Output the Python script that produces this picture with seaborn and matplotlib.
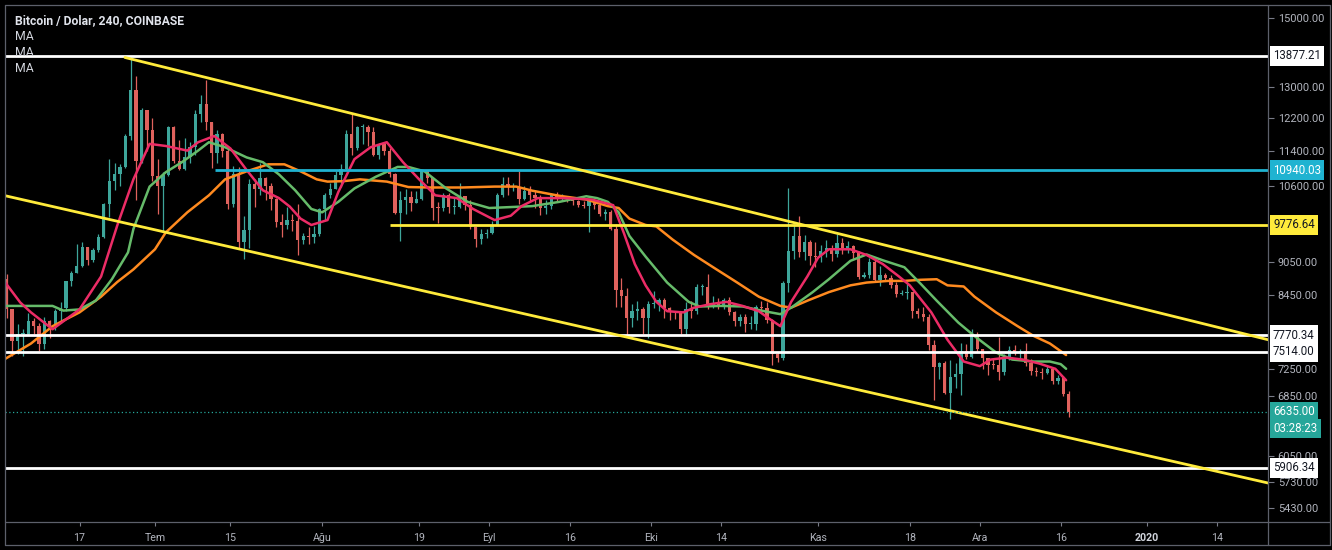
import matplotlib
matplotlib.use("Agg")
import matplotlib.pyplot as plt
import matplotlib.dates as mdates
from matplotlib.transforms import blended_transform_factory
from matplotlib.lines import Line2D
from matplotlib.ticker import NullLocator, FixedLocator, FixedFormatter
import seaborn as sns
import pandas as pd
import numpy as np

# ---------------- data (daily candles) ----------------
start_date = "2019-06-03"
first_open = 8740
closes = [
    # June 3-30
    8200, 7680, 7790, 7800, 8000, 7930, 7630, 8010, 7915, 8180, 8230, 8690, 8850, 8970,
    9330, 9080, 9280, 9530, 10200, 10700, 10850, 11020, 11750, 12930, 11160, 12390, 11890, 10820,
    # July
    10590, 10840, 11980, 11150, 10980, 11250, 11480, 12290, 12570, 12100, 11350, 11800, 11380, 10200,
    10850, 9430, 9670, 10640, 10530, 10760, 10590, 10320, 9840, 9770, 9880, 9850, 9480, 9540, 9520, 9590, 10090,
    # August
    10400, 10530, 10830, 10980, 11800, 11460, 11970, 11980, 11860, 11290, 11550, 11400, 10860, 10020,
    10300, 10360, 10220, 10320, 10920, 10770, 10130, 10120, 10400, 10140, 10140, 10370, 10190, 9720, 9490, 9590, 9600,
    # September
    9770, 10390, 10630, 10570, 10580, 10320, 10490, 10400, 10330, 10120, 10170, 10420, 10360, 10370,
    10310, 10260, 10190, 10160, 10270, 10180, 9990, 10030, 9690, 8530, 8430, 8060, 8180, 8200, 8050, 8300,
    # October
    8300, 8370, 8230, 8150, 8140, 7870, 8210, 8180, 8590, 8590, 8260, 8300, 8280, 8360,
    8160, 8000, 8070, 7960, 7960, 8240, 8220, 8020, 7470, 7420, 8660, 9250, 9550, 9230, 9430, 9170, 9150,
    # November
    9250, 9310, 9200, 9410, 9310, 9350, 9210, 8770, 8810, 9040, 8720, 8800, 8760, 8630,
    8460, 8490, 8500, 8170, 8120, 8080, 7620, 7280, 7330, 6900, 7130, 7170, 7520, 7430, 7760, 7560,
    # December 1-17
    7410, 7310, 7300, 7200, 7400, 7540, 7510, 7520, 7340, 7220, 7200, 7190, 7250, 7070, 7110, 6880, 6635,
]
highs = [
    8830, 8200, 7960, 7880, 8140, 8060, 7980, 8080, 8030, 8200, 8320, 8700, 8880, 9390,
    9430, 9340, 9320, 9580, 10230, 11200, 11100, 11090, 11800, 13880, 13300, 12450, 12400, 12200,
    11200, 10900, 11990, 12000, 11650, 11700, 11600, 12390, 12800, 13200, 12100, 11900, 11820, 11450,
    11050, 11020, 9950, 10750, 10750, 11100, 10800, 10650, 10330, 10000, 10150, 10000, 10200, 9600, 9720, 9750, 10120,
    10450, 10650, 10920, 11080, 11900, 12320, 12000, 12050, 12030, 11960, 11570, 11600, 11450, 10880,
    10480, 10530, 10480, 10480, 10950, 10950, 10770, 10240, 10440, 10430, 10350, 10650, 10370, 10290, 9730, 9680, 9690,
    9850, 10450, 10790, 10790, 10650, 10920, 10590, 10600, 10500, 10400, 10300, 10450, 10460, 10420,
    10380, 10360, 10280, 10260, 10320, 10280, 10200, 10100, 10070, 9800, 8750, 8580, 8300, 8340, 8250, 8350,
    8520, 8400, 8400, 8240, 8180, 8180, 8330, 8350, 8650, 8650, 8830, 8430, 8400, 8400,
    8420, 8180, 8120, 8120, 8090, 8280, 8340, 8320, 8040, 7500, 8700, 10540, 9800, 9950, 9560, 9480, 9430,
    9380, 9470, 9380, 9580, 9500, 9450, 9380, 9250, 8860, 9120, 9080, 8970, 8840, 8810,
    8680, 8540, 8640, 8500, 8220, 8250, 8120, 7700, 7350, 7370, 7390, 7340, 7650, 7640, 7870, 7830,
    7560, 7420, 7400, 7750, 7480, 7600, 7620, 7550, 7650, 7400, 7270, 7260, 7310, 7260, 7160, 7140, 6920,
]
lows = [
    8060, 7450, 7480, 7440, 7790, 7800, 7520, 7550, 7730, 7850, 7980, 8170, 8600, 8850,
    8950, 9000, 9040, 9230, 9500, 9940, 10500, 10600, 11000, 11650, 10300, 11100, 11380, 10700,
    10000, 9650, 10820, 11100, 10950, 10950, 11120, 11300, 12100, 11900, 11000, 11100, 11250, 10100,
    10150, 9300, 9100, 9310, 10150, 10400, 10300, 10070, 9730, 9530, 9680, 9640, 9180, 9400, 9400, 9420, 9550,
    9880, 10340, 10520, 10570, 10960, 11300, 11420, 11550, 11500, 11270, 11200, 11300, 10800, 10000,
    9450, 10000, 10050, 10220, 10300, 10650, 9870, 9810, 10050, 10010, 10000, 10120, 10070, 9680, 9340, 9390, 9500,
    9580, 9760, 10350, 10400, 10480, 10200, 10300, 10270, 10120, 9980, 10000, 10100, 10260, 10300,
    10250, 10180, 10150, 10110, 9630, 10100, 9950, 9880, 9660, 8250, 8250, 7760, 7900, 8030, 7800, 7730,
    8220, 8170, 8060, 8020, 8040, 7800, 7760, 8050, 8120, 8450, 8200, 8220, 8200, 8210,
    8100, 7930, 7920, 7820, 7880, 7860, 8160, 7980, 7300, 7350, 7390, 8500, 9100, 9150, 9080, 8990, 8950,
    9050, 9150, 9070, 9150, 9200, 9220, 9100, 8740, 8750, 8750, 8690, 8600, 8700, 8570,
    8420, 8450, 8380, 8050, 8050, 8000, 7540, 6800, 7100, 6880, 6530, 6970, 6860, 7400, 7410, 7500,
    7250, 7150, 7250, 7090, 7150, 7380, 7460, 7380, 7290, 7150, 7140, 7100, 7170, 7030, 7020, 6850, 6560,
]

# moving averages, sampled from the chart
ma_fast_dates = ["2019-06-03", "2019-06-06", "2019-06-08", "2019-06-12", "2019-06-17", "2019-06-21",
                 "2019-06-24", "2019-06-27", "2019-06-30", "2019-07-03", "2019-07-07", "2019-07-09",
                 "2019-07-12", "2019-07-15", "2019-07-18", "2019-07-21", "2019-07-24", "2019-07-26",
                 "2019-07-28", "2019-07-30", "2019-08-02", "2019-08-04", "2019-08-07", "2019-08-10",
                 "2019-08-13", "2019-08-16", "2019-08-19", "2019-08-22", "2019-08-26", "2019-08-29",
                 "2019-09-02", "2019-09-05", "2019-09-07", "2019-09-10", "2019-09-15", "2019-09-20",
                 "2019-09-24", "2019-09-26", "2019-09-28", "2019-09-30", "2019-10-02", "2019-10-04",
                 "2019-10-07", "2019-10-09", "2019-10-12", "2019-10-15", "2019-10-18", "2019-10-21",
                 "2019-10-23", "2019-10-25", "2019-10-27", "2019-10-30", "2019-11-01", "2019-11-03",
                 "2019-11-07", "2019-11-10", "2019-11-13", "2019-11-16", "2019-11-18", "2019-11-22",
                 "2019-11-25", "2019-11-28", "2019-12-01", "2019-12-03", "2019-12-06", "2019-12-09",
                 "2019-12-12", "2019-12-15", "2019-12-17"]
ma_fast_vals = [8700, 8320, 8150, 7870, 8200, 8780,
                9760, 10740, 11560, 11510, 11400, 11600,
                11750, 11450, 10950, 10500, 10330, 10150,
                9900, 9770, 9870, 10460, 11200, 11480,
                11600, 11130, 10740, 10390, 10330, 10100,
                9870, 9960, 10160, 10330, 10330, 10300,
                10180, 9600, 9010, 8620, 8330, 8170,
                8150, 8230, 8290, 8330, 8260, 8170,
                8040, 7920, 8330, 8780, 9130, 9290,
                9290, 9180, 9010, 8780, 8620, 8150,
                7700, 7360, 7290, 7390, 7420, 7390,
                7330, 7250, 7080]

ma_mid_dates = ["2019-06-03", "2019-06-12", "2019-06-14", "2019-06-17", "2019-06-20", "2019-06-23",
                "2019-06-26", "2019-06-27", "2019-06-30", "2019-07-03", "2019-07-06", "2019-07-09",
                "2019-07-11", "2019-07-14", "2019-07-18", "2019-07-21", "2019-07-24", "2019-07-27",
                "2019-07-30", "2019-08-01", "2019-08-04", "2019-08-07", "2019-08-11", "2019-08-15",
                "2019-08-17", "2019-08-20", "2019-08-24", "2019-08-28", "2019-09-01", "2019-09-05",
                "2019-09-09", "2019-09-14", "2019-09-19", "2019-09-21", "2019-09-23", "2019-09-25",
                "2019-09-27", "2019-09-30", "2019-10-04", "2019-10-08", "2019-10-10", "2019-10-14",
                "2019-10-18", "2019-10-22", "2019-10-25", "2019-10-27", "2019-10-31", "2019-11-03",
                "2019-11-07", "2019-11-10", "2019-11-13", "2019-11-17", "2019-11-20", "2019-11-23",
                "2019-11-27", "2019-11-30", "2019-12-04", "2019-12-07", "2019-12-11", "2019-12-14",
                "2019-12-16", "2019-12-17"]
ma_mid_vals = [8260, 8260, 8180, 8200, 8350, 8730,
               9230, 9690, 10580, 10900, 11130, 11400,
               11600, 11480, 11240, 11130, 10850, 10500,
               10100, 10030, 10250, 10540, 10800, 11020,
               11020, 10920, 10540, 10250, 10120, 10140,
               10160, 10250, 10370, 10330, 10250, 10030,
               9550, 9150, 8670, 8330, 8250, 8260,
               8250, 8170, 8120, 8230, 8500, 8730,
               9070, 9190, 9080, 8950, 8650, 8350,
               7980, 7760, 7500, 7390, 7360, 7360,
               7320, 7250]

ma_slow_dates = ["2019-06-03", "2019-06-08", "2019-06-12", "2019-06-17", "2019-06-21", "2019-06-24",
                 "2019-06-27", "2019-07-01", "2019-07-03", "2019-07-07", "2019-07-11", "2019-07-14",
                 "2019-07-18", "2019-07-22", "2019-07-25", "2019-07-28", "2019-07-31", "2019-08-02",
                 "2019-08-05", "2019-08-08", "2019-08-13", "2019-08-17", "2019-08-21", "2019-08-27",
                 "2019-09-02", "2019-09-06", "2019-09-09", "2019-09-14", "2019-09-19", "2019-09-23",
                 "2019-09-25", "2019-09-27", "2019-09-30", "2019-10-02", "2019-10-05", "2019-10-09",
                 "2019-10-13", "2019-10-17", "2019-10-21", "2019-10-25", "2019-10-27", "2019-10-30",
                 "2019-11-03", "2019-11-07", "2019-11-10", "2019-11-14", "2019-11-17", "2019-11-20",
                 "2019-11-23", "2019-11-25", "2019-11-28", "2019-11-30", "2019-12-04", "2019-12-08",
                 "2019-12-11", "2019-12-14", "2019-12-17"]
ma_slow_vals = [7390, 7640, 7920, 8150, 8420, 8680,
                8910, 9290, 9620, 10030, 10390, 10740,
                10920, 11080, 11080, 10920, 10740, 10690,
                10700, 10740, 10690, 10570, 10560, 10560,
                10580, 10580, 10490, 10380, 10300, 10160,
                10120, 9900, 9770, 9740, 9480, 9180,
                8920, 8670, 8420, 8260, 8230, 8350,
                8500, 8620, 8670, 8700, 8700, 8720,
                8730, 8620, 8600, 8420, 8150, 7920,
                7760, 7640, 7460]

# horizontal levels: (price, start date or None for full width, kind)
level_prices = [13877.21, 10940.03, 9776.64, 7770.34, 7514.00, 5906.34]
level_starts = [None, "2019-07-12 03:00", "2019-08-13 14:00", None, None, None]
level_kinds = ["white", "cyan", "yellow", "white", "white", "white"]
last_price = 6635.00
countdown = "03:28:23"

# channel trend lines (date, price) anchors
upper_channel_dates = ["2019-06-25 10:00", "2020-01-23 12:00"]
upper_channel_prices = [13830, 7700]
lower_channel_dates = ["2019-06-02 12:00", "2020-01-23 12:00"]
lower_channel_prices = [10400, 5720]

price_ticks = [15000, 13000, 12200, 11400, 10600, 9050, 8450, 7250, 6850, 6050, 5730, 5430]
date_ticks = ["2019-06-17", "2019-07-01", "2019-07-15", "2019-08-01", "2019-08-19", "2019-09-01",
              "2019-09-16", "2019-10-01", "2019-10-14", "2019-11-01", "2019-11-18", "2019-12-01",
              "2019-12-16", "2020-01-01", "2020-01-14"]
date_tick_labels = ["17", "Tem", "15", "Ağu", "19", "Eyl", "16", "Eki", "14", "Kas", "18", "Ara",
                    "16", "2020", "14"]

title_text = "Bitcoin / Dolar, 240, COINBASE"
ma_labels = ["MA", "MA", "MA"]

# ---------------- style ----------------
sns.set_theme(style="dark")
plt.rcParams['font.family'] = ['Roboto', 'DejaVu Sans']

UP = "#3ea69b"
DOWN = "#e0625d"
AXIS_TXT = "#b2b5be"
FRAME = "#5d606b"
level_colors = {"white": "#ffffff", "cyan": "#1fb3d1", "yellow": "#ffeb3b"}
label_text_colors = {"white": "#131722", "cyan": "#ffffff", "yellow": "#131722"}

W, H = 1332, 550
fig = plt.figure(figsize=(W / 100, H / 100), dpi=100, facecolor="black")
ax = fig.add_axes([5 / W, (H - 522) / H, (1268 - 5) / W, (522 - 5) / H])
ax.set_facecolor("black")
for s in ax.spines.values():
    s.set_visible(False)
ax.grid(False)

# ---------------- candles ----------------
days = pd.date_range(start_date, periods=len(closes), freq="D")
xc = mdates.date2num(days + pd.Timedelta(hours=12))
c = np.array(closes, float)
o = np.concatenate([[first_open], c[:-1]])
hi = np.maximum.reduce([np.array(highs, float), o, c])
lo = np.minimum.reduce([np.array(lows, float), o, c])
cols = np.where(c >= o, UP, DOWN)
ax.vlines(xc, lo, hi, colors=cols, lw=0.9, zorder=2)
body_lo = np.minimum(o, c)
body_h = np.maximum(np.abs(c - o), 15)
ax.bar(xc, body_h, bottom=body_lo, width=0.6, color=cols, linewidth=0, zorder=2)

# ---------------- moving averages ----------------
for dts, vals, col in [(ma_slow_dates, ma_slow_vals, "#ff8a1f"),
                       (ma_mid_dates, ma_mid_vals, "#66bb6a"),
                       (ma_fast_dates, ma_fast_vals, "#ec2c66")]:
    xs = mdates.date2num(pd.to_datetime(dts))
    sns.lineplot(x=xs, y=vals, ax=ax, color=col, lw=1.8, zorder=3, sort=True)

# ---------------- axes limits ----------------
x_left = mdates.date2num(pd.Timestamp("2019-07-01") - pd.Timedelta(days=27.82))
x_right = mdates.date2num(pd.Timestamp("2019-07-01") + pd.Timedelta(days=206.45))
ax.set_xlim(x_left, x_right)
ax.set_yscale("log")
ax.set_ylim(5276, 15420)

# ---------------- levels / drawings ----------------
for p, st, k in zip(level_prices, level_starts, level_kinds):
    xs0 = x_left if st is None else mdates.date2num(pd.Timestamp(st))
    ax.plot([xs0, x_right], [p, p], color=level_colors[k], lw=2.0, zorder=4, solid_capstyle="butt")

ax.plot(mdates.date2num(pd.to_datetime(upper_channel_dates)), upper_channel_prices,
        color="#ffeb3b", lw=2.0, zorder=4)
ax.plot(mdates.date2num(pd.to_datetime(lower_channel_dates)), lower_channel_prices,
        color="#ffeb3b", lw=2.0, zorder=4)
ax.plot([x_left, x_right], [last_price, last_price], color="#26a69a", lw=0.9,
        linestyle=(0, (1, 2)), zorder=4)

# ---------------- price axis ----------------
ax.yaxis.tick_right()
ax.yaxis.set_major_locator(FixedLocator(price_ticks))
ax.yaxis.set_major_formatter(FixedFormatter([f"{v:.2f}" for v in price_ticks]))
ax.yaxis.set_minor_locator(NullLocator())
ax.tick_params(axis="y", which="major", right=True, left=False, length=4, width=0.8,
               color="#787b86", labelcolor=AXIS_TXT, labelsize=7.9, pad=3)

ax.xaxis.set_major_locator(FixedLocator(mdates.date2num(pd.to_datetime(date_ticks))))
ax.xaxis.set_major_formatter(FixedFormatter(date_tick_labels))
ax.xaxis.set_minor_locator(NullLocator())
ax.tick_params(axis="x", which="major", bottom=True, length=3, width=0.8, color="#787b86",
               labelcolor=AXIS_TXT, labelsize=7.7, pad=5)
for lab in ax.get_xticklabels():
    if lab.get_text() == "2020":
        lab.set_fontweight("bold")
        lab.set_color("#d1d4dc")

# price labels on axis
tr = blended_transform_factory(ax.transAxes, ax.transData)
box_x = 1 + 5 / (1268 - 5)
for p, k in zip(level_prices, level_kinds):
    ax.text(box_x, p, f"{p:.2f}", transform=tr, ha="left", va="center", fontsize=8.3,
            color=label_text_colors[k], clip_on=False, zorder=6,
            bbox=dict(boxstyle="square,pad=0.3", fc=level_colors[k], ec="none"))
ax.text(box_x, last_price, f"{last_price:.2f}", transform=tr, ha="left", va="center", fontsize=8.3,
        color="white", clip_on=False, zorder=6,
        bbox=dict(boxstyle="square,pad=0.3", fc="#26a69a", ec="none"))
ax.annotate(countdown, xy=(box_x, last_price), xycoords=tr, xytext=(0, -17),
            textcoords="offset pixels", ha="left", va="center", fontsize=8.3, color="white",
            annotation_clip=False, zorder=6,
            bbox=dict(boxstyle="square,pad=0.3", fc="#26a69a", ec="none"))

# ---------------- frame lines ----------------
def px(x, y):
    return x / W, 1 - y / H

for (x0, y0, x1, y1) in [(5, 5, 1330, 5), (5, 545, 1330, 545), (5, 5, 5, 545), (1330, 5, 1330, 545),
                         (1268, 5, 1268, 545), (5, 522, 1330, 522)]:
    a, b = px(x0, y0)
    cc, d = px(x1, y1)
    fig.add_artist(Line2D([a, cc], [b, d], color=FRAME, lw=0.9, transform=fig.transFigure, zorder=10))

# ---------------- legend texts ----------------
fig.text(15 / W, 1 - 21 / H, title_text, color="#e0e3eb", fontsize=8.7, fontweight="bold",
         ha="left", va="center")
for i, t in enumerate(ma_labels):
    fig.text(15 / W, 1 - (36.5 + 16 * i) / H, t, color="#d1d4dc", fontsize=8.8,
             ha="left", va="center")

fig.savefig("out.png", dpi=100, facecolor="black")
